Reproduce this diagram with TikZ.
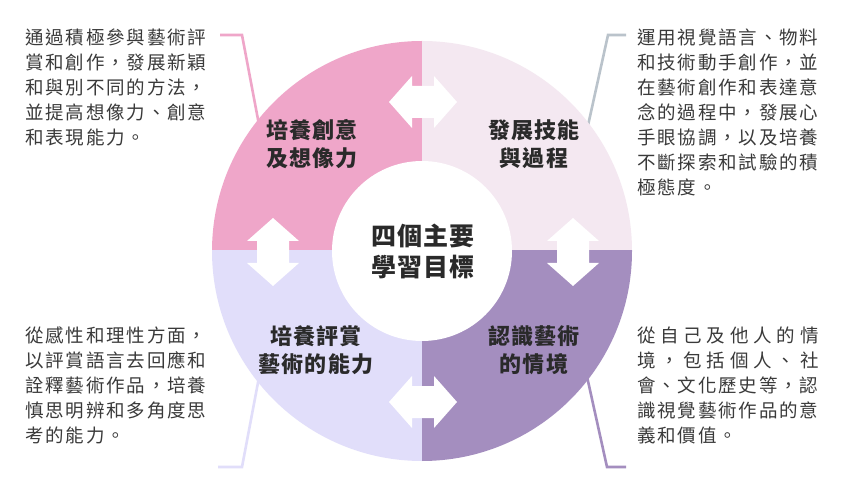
\documentclass[tikz,border=0pt]{standalone}
\usepackage{fontspec}
\newfontfamily\bodyfont[LetterSpace=10]{Noto Sans CJK TC}
\newfontfamily\labfont[LetterSpace=5]{Noto Sans CJK TC}
\definecolor{qpink}{HTML}{EFA6C9}
\definecolor{qpale}{HTML}{F4E8F1}
\definecolor{qlav}{HTML}{E1DEFA}
\definecolor{qpurp}{HTML}{A48EBF}
\definecolor{lgray}{HTML}{BAC3CB}
\definecolor{txt}{HTML}{3A3A3A}
\definecolor{ltxt}{HTML}{2A2A2A}
\newlength\jw
\settowidth{\jw}{\bodyfont\fontsize{18.5}{25}\selectfont 識視覺藝術作品的意}
\begin{document}
\begin{tikzpicture}[x=1pt,y=-1pt,
  body/.style={font=\bodyfont\fontsize{18.5}{25}\selectfont, text=txt, align=left, inner sep=0pt, anchor=north west},
  lab/.style={font=\labfont\bfseries\fontsize{22}{28}\selectfont, text=ltxt, align=center, inner sep=0pt},
  ctrlab/.style={font=\labfont\bfseries\fontsize{25}{31}\selectfont, text=ltxt, align=center, inner sep=0pt},
  conn/.style={line width=2.6pt, line cap=butt, line join=miter},
  darr/.pic={\fill[white] (-34,0) -- (-11,-26) -- (-11,-16) -- (11,-16) -- (11,-26) -- (34,0) -- (11,26) -- (11,16) -- (-11,16) -- (-11,26) -- cycle;}
]
\fill[white] (0,0) rectangle (846,478);
\useasboundingbox (0,0) rectangle (846,478);

% text blocks
\node[body] (ttl) at (25,29) {通過積極參與藝術評\\賞和創作，發展新穎\\和與別不同的方法，\\並提高想像力、創意\\和表現能力。};
\node[body] (ttr) at (637,29) {運用視覺語言、物料\\和技術動手創作，並\\在藝術創作和表達意\\念的過程中，發展心\\手眼協調，以及培養\\不斷探索和試驗的積\\極態度。};
\node[body] (tbl) at (25,327) {從感性和理性方面，\\以評賞語言去回應和\\詮釋藝術作品，培養\\慎思明辨和多角度思\\考的能力。};
\node[body] (tbr) at (637,327) {\makebox[\jw][s]{從 自 己 及 他 人 的 情}\\\makebox[\jw][s]{境 ， 包 括 個 人 、 社}\\會、文化歷史等，認\\識視覺藝術作品的意\\義和價值。};

% connector coordinates
\coordinate (tlA) at (220,35); \coordinate (tlB) at (242,35); \coordinate (tlC) at (260,130);
\coordinate (trA) at (626,35); \coordinate (trB) at (608,35); \coordinate (trC) at (587,130);
\coordinate (blA) at (218,467); \coordinate (blB) at (242,467); \coordinate (blC) at (260,372);
\coordinate (brA) at (626,467); \coordinate (brB) at (607,467); \coordinate (brC) at (586,372);
\draw[conn, qpink] (tlA) -- (tlB) -- (tlC);
\draw[conn, lgray] (trA) -- (trB) -- (trC);
\draw[conn, qlav] (blA) -- (blB) -- (blC);
\draw[conn, qpurp] (brA) -- (brB) -- (brC);

% ring quadrants
\coordinate (C) at (422,251);
\begin{scope}\clip (200,30) rectangle (422,251); \fill[qpink] (C) circle[radius=210pt]; \end{scope}
\begin{scope}\clip (422,30) rectangle (645,251); \fill[qpale] (C) circle[radius=210pt]; \end{scope}
\begin{scope}\clip (200,251) rectangle (422,470); \fill[qlav] (C) circle[radius=210pt]; \end{scope}
\begin{scope}\clip (422,251) rectangle (645,470); \fill[qpurp] (C) circle[radius=210pt]; \end{scope}
\fill[white] (C) circle[radius=90pt];

% double arrows
\pic at (423,102) {darr};
\pic at (423,402) {darr};
\pic[rotate=90] at (273,252) {darr};
\pic[rotate=90] at (573,252) {darr};

% labels
\node[lab] (ltl) at (312,144) {培養創意\\及想像力};
\node[lab] (ltr) at (534,144) {發展技能\\與過程};
\node[lab] (lbl) at (316,350) {培養評賞\\藝術的能力};
\node[lab] (lbr) at (534,350) {認識藝術\\的情境};
\node[ctrlab] (ctr) at (423,251) {四個主要\\學習目標};
\end{tikzpicture}
\end{document}
